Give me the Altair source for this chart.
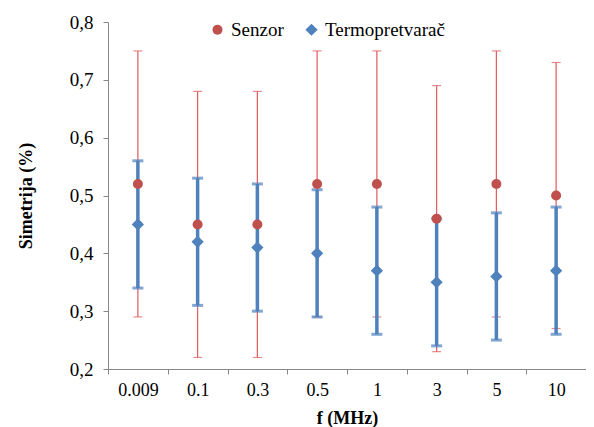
import altair as alt
import pandas as pd

categories = ["0.009", "0.1", "0.3", "0.5", "1", "3", "5", "10"]
senzor_mean = [0.52, 0.45, 0.45, 0.52, 0.52, 0.46, 0.52, 0.50]
senzor_low = [0.29, 0.22, 0.22, 0.29, 0.29, 0.23, 0.29, 0.27]
senzor_high = [0.75, 0.68, 0.68, 0.75, 0.75, 0.69, 0.75, 0.73]
termo_mean = [0.45, 0.42, 0.41, 0.40, 0.37, 0.35, 0.36, 0.37]
termo_low = [0.34, 0.31, 0.30, 0.29, 0.26, 0.24, 0.25, 0.26]
termo_high = [0.56, 0.53, 0.52, 0.51, 0.48, 0.46, 0.47, 0.48]

series = ["Senzor", "Termopretvarač"]
RED = "#C0504D"
RED_BAR = "#E05A5E"
BLUE = "#4F81BD"

rows = []
for i, c in enumerate(categories):
    rows.append({"f": c, "s": "Senzor", "m": senzor_mean[i], "lo": senzor_low[i], "hi": senzor_high[i]})
    rows.append({"f": c, "s": "Termopretvarač", "m": termo_mean[i], "lo": termo_low[i], "hi": termo_high[i]})
df = pd.DataFrame(rows)

FONT = "Times New Roman"

xaxis = alt.Axis(labelAngle=0, tickBand="extent", labelFontSize=18,
                 labelColor="black", titleFontSize=18, titleFontWeight="bold",
                 titleColor="black", domainColor="#888888", tickColor="#888888",
                 tickSize=5, labelPadding=7, titlePadding=10, grid=False)
yaxis = alt.Axis(values=[0.2, 0.3, 0.4, 0.5, 0.6, 0.7, 0.8],
                 labelExpr="replace(format(datum.value, '.1f'), '.', ',')",
                 labelFontSize=19, labelColor="black",
                 titleFontSize=18, titleFontWeight="bold",
                 titleColor="black", domainColor="#888888", tickColor="#888888",
                 tickSize=5, labelPadding=10, titlePadding=34, grid=False)
yscale = alt.Scale(domain=[0.2, 0.8], nice=False, zero=False)
xscale = alt.Scale(domain=categories, paddingInner=0, paddingOuter=0)

x = alt.X("f:N", sort=categories, title="f (MHz)", scale=xscale, axis=xaxis)
y = alt.Y("m:Q", title="Simetrija (%)", scale=yscale, axis=yaxis)
ylo = alt.Y("lo:Q", title="Simetrija (%)", scale=yscale, axis=yaxis)
yhi = alt.Y("hi:Q", title="Simetrija (%)", scale=yscale, axis=yaxis)

base = alt.Chart(df)
red = base.transform_filter(alt.datum.s == "Senzor")
blue = base.transform_filter(alt.datum.s == "Termopretvarač")

red_rule = red.mark_rule(color=RED_BAR, strokeWidth=1.2).encode(x=x, y=ylo, y2="hi:Q")
red_cap_hi = red.mark_tick(color=RED_BAR, thickness=1.2, size=9, orient="horizontal").encode(x=x, y=yhi)
red_cap_lo = red.mark_tick(color=RED_BAR, thickness=1.2, size=9, orient="horizontal").encode(x=x, y=ylo)

blue_rule = blue.mark_rule(color=BLUE, strokeWidth=3.5).encode(x=x, y=ylo, y2="hi:Q")
blue_cap_hi = blue.mark_tick(color=BLUE, thickness=3, size=11, orient="horizontal").encode(x=x, y=yhi)
blue_cap_lo = blue.mark_tick(color=BLUE, thickness=3, size=11, orient="horizontal").encode(x=x, y=ylo)

color = alt.Color("s:N", scale=alt.Scale(domain=series, range=[RED, BLUE]),
                  legend=alt.Legend(title=None, orient="none", direction="horizontal",
                                    legendX=100, legendY=-2, labelFontSize=19,
                                    labelColor="black", symbolSize=50, columnPadding=18,
                                    symbolStrokeWidth=0, labelOffset=4))
shape = alt.Shape("s:N", scale=alt.Scale(domain=series, range=["circle", "diamond"]), legend=None)
size = alt.Size("s:N", scale=alt.Scale(domain=series, range=[100, 150]), legend=None)

points = base.mark_point(filled=True, opacity=1).encode(
    x=x, y=y, color=color, shape=shape, size=size,
    order=alt.Order("s:N", sort="descending"))

chart = alt.layer(red_rule, red_cap_hi, red_cap_lo, blue_rule, blue_cap_hi, blue_cap_lo, points).properties(
    width=478, height=347,
    autosize=alt.AutoSizeParams(type="none"),
    padding={"left": 100, "top": 14, "right": 0, "bottom": 62},
).configure(
    font=FONT,
    style={"guide-label": {"font": FONT}, "guide-title": {"font": FONT}},
).configure_view(stroke=None).configure_axis(labelFont=FONT, titleFont=FONT).configure_legend(labelFont=FONT, titleFont=FONT)

chart.save("out.html", embed_options={"renderer": "svg", "actions": False})
